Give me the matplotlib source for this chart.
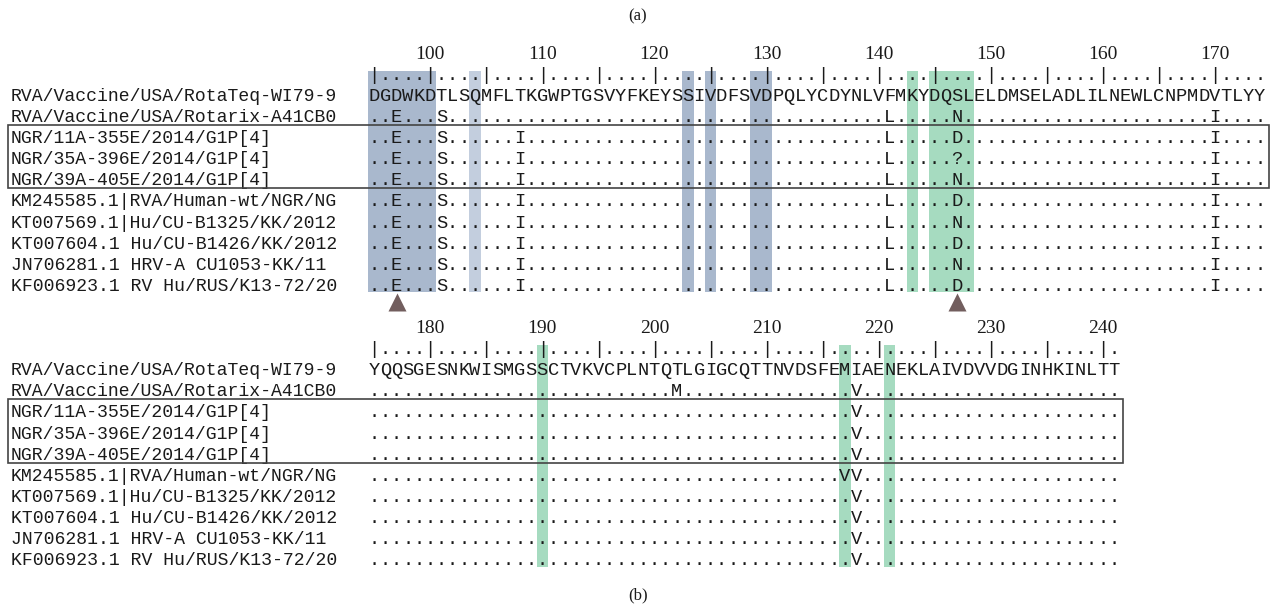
import matplotlib.pyplot as plt
from matplotlib.patches import Rectangle

# sequence names (same for both blocks)
names = [
    "RVA/Vaccine/USA/RotaTeq-WI79-9",
    "RVA/Vaccine/USA/Rotarix-A41CB0",
    "NGR/11A-355E/2014/G1P[4]",
    "NGR/35A-396E/2014/G1P[4]",
    "NGR/39A-405E/2014/G1P[4]",
    "KM245585.1|RVA/Human-wt/NGR/NG",
    "KT007569.1|Hu/CU-B1325/KK/2012",
    "KT007604.1 Hu/CU-B1426/KK/2012",
    "JN706281.1 HRV-A CU1053-KK/11",
    "KF006923.1 RV Hu/RUS/K13-72/20",
]

# block (a): residues 95-174
top_start = 95
top_ref = "DGDWKDTLSQMFLTKGWPTGSVYFKEYSSIVDFSVDPQLYCDYNLVFMKYDQSLELDMSELADLILNEWLCNPMDVTLYY"
ngr = {97: 'E', 101: 'S', 108: 'I', 141: 'L', 170: 'I'}
top_subs = [
    {},
    {97: 'E', 101: 'S', 141: 'L', 147: 'N', 170: 'I'},
    {**ngr, 147: 'D'},
    {**ngr, 147: '?'},
    {**ngr, 147: 'N'},
    {**ngr, 147: 'D'},
    {**ngr, 147: 'N'},
    {**ngr, 147: 'D'},
    {**ngr, 147: 'N'},
    {**ngr, 147: 'D'},
]
top_dark = [(95, 100), (123, 123), (125, 125), (129, 130)]
top_light = [(104, 104)]
top_green = [(143, 143), (145, 148)]
top_marks = [97, 147]
top_labels = list(range(100, 171, 10))

# block (b): residues 175-241
bot_start = 175
bot_ref = "YQQSGESNKWISMGSSCTVKVCPLNTQTLGIGCQTTNVDSFEMIAENEKLAIVDVVDGINHKINLTT"
bot_subs = [
    {},
    {202: 'M', 218: 'V'},
    {218: 'V'},
    {218: 'V'},
    {218: 'V'},
    {217: 'V', 218: 'V'},
    {218: 'V'},
    {218: 'V'},
    {218: 'V'},
    {218: 'V'},
]
bot_green = [(190, 190), (217, 217), (221, 221)]
bot_labels = list(range(180, 241, 10))

blue_dark = "#a9b8cd"
blue_light = "#c3cede"
green = "#a6dbc0"
ink = "#1a1a1a"
mono = "Liberation Mono"
serif = "Liberation Serif"

fig = plt.figure(figsize=(12.76, 6.11), dpi=100)
ax = fig.add_axes([0, 0, 1, 1])
ax.axis('off')
# x in alignment columns (char width 11.21 px), y in rows (21.1 px)
ax.set_xlim(-374.1 / 11.21, (1276 - 374.1) / 11.21)
ax.set_ylim((611 - 95) / 21.1, -95 / 21.1)

base = 0.28  # baseline offset below row centre


def put(x, y, ch):
    # one character per alignment column
    ax.text(x, y, ch, family=mono, fontsize=13.5, color=ink,
            ha='center', va='baseline', zorder=3)


def draw_block(y0, start, ref, subs, bands, marks, labels):
    n = len(ref)
    for (a, b), col in bands:
        ax.add_patch(Rectangle((a - start - 0.5, y0 - 1.15), b - a + 1, 10.5,
                               facecolor=col, edgecolor='none', zorder=1))
    # ruler
    for c in range(n):
        put(c, y0 - 1 + base, '|' if (start + c) % 5 == 0 else '.')
    for lab in labels:
        ax.text(lab - start, y0 - 2 + 0.3, str(lab), family=serif, fontsize=14,
                color=ink, ha='center', va='baseline', zorder=3)
    for r, (name, sub) in enumerate(zip(names, subs)):
        ax.text(-32.4, y0 + r + base, name, family=mono, fontsize=13.1,
                color=ink, ha='left', va='baseline', zorder=3)
        for c in range(n):
            put(c, y0 + r + base, ref[c] if r == 0 else sub.get(start + c, '.'))
    # box round the NGR sequences
    ax.add_patch(Rectangle((-32.66, y0 + 1.42), n - 0.15 + 32.66, 3.0,
                           facecolor='none', edgecolor='#444444', lw=1.2,
                           zorder=4))
    if marks:
        ax.plot([m - start for m in marks], [y0 + 9.79] * len(marks), '^',
                color='#725e5e', ms=13, mec='none', zorder=4)


draw_block(0, top_start, top_ref, top_subs,
           [(b, blue_dark) for b in top_dark] + [(b, blue_light) for b in top_light]
           + [(b, green) for b in top_green],
           top_marks, top_labels)
draw_block(13, bot_start, bot_ref, bot_subs,
           [(b, green) for b in bot_green], [], bot_labels)

xc = (638 - 374.1) / 11.21
ax.text(xc, -3.74, "(a)", family=serif, fontsize=12, color=ink,
        ha='center', va='center')
ax.text(xc, 23.7, "(b)", family=serif, fontsize=12, color=ink,
        ha='center', va='center')

fig.savefig("out.png", dpi=100)
